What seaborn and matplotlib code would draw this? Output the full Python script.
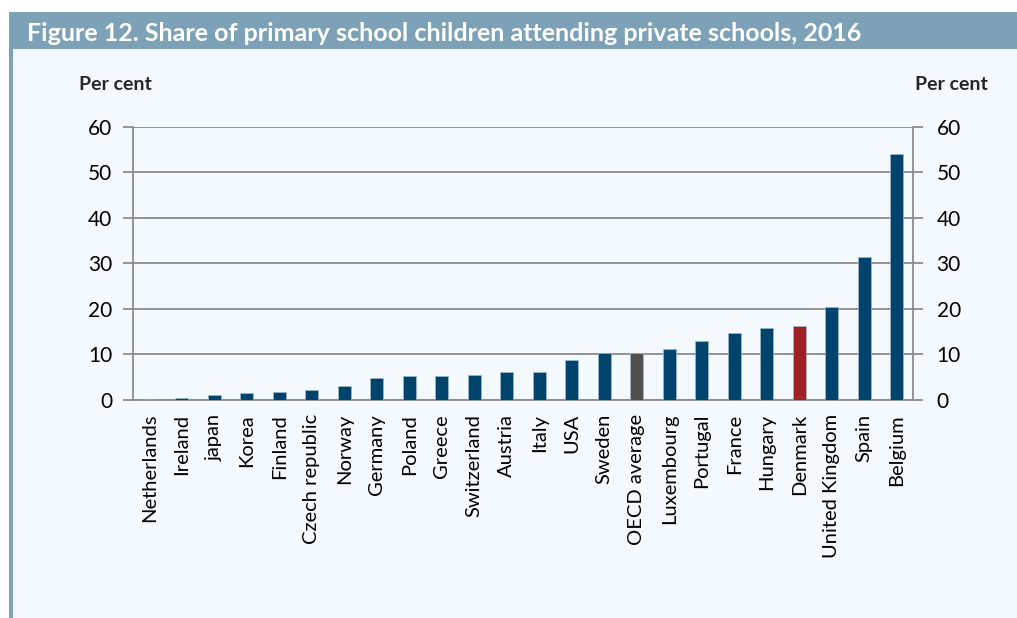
import matplotlib
matplotlib.use("Agg")
import matplotlib.pyplot as plt
import matplotlib.patches as mpatches
import seaborn as sns
import pandas as pd
import numpy as np

countries = ["Netherlands", "Ireland", "japan", "Korea", "Finland", "Czech republic",
             "Norway", "Germany", "Poland", "Greece", "Switzerland", "Austria", "Italy",
             "USA", "Sweden", "OECD average", "Luxembourg", "Portugal", "France",
             "Hungary", "Denmark", "United Kingdom", "Spain", "Belgium"]
values = [0.3, 0.5, 1.1, 1.5, 1.7, 2.2, 3.1, 4.9, 5.2, 5.3, 5.5, 6.1, 6.2,
          8.8, 10.4, 10.3, 11.3, 12.9, 14.7, 15.9, 16.3, 20.4, 31.5, 54.0]
groups = ["country"] * len(countries)
groups[countries.index("OECD average")] = "oecd"
groups[countries.index("Denmark")] = "denmark"
yticks = [0, 10, 20, 30, 40, 50, 60]

title = "Figure 12. Share of primary school children attending private schools, 2016"
ylabel = "Per cent"

BG = "#F4F9FD"
BAR = "#00446E"
RED = "#9E1F24"
GREY = "#505050"
BAND = "#7DA2B7"
GRID = "#8C8C8C"

df = pd.DataFrame({"country": countries, "value": values, "group": groups})

sns.set_theme(style="white")
plt.rcParams["font.family"] = ["Lato", "DejaVu Sans"]

fig = plt.figure(figsize=(10.17, 6.18), dpi=100)
fig.patch.set_facecolor("white")

# background panel
fig.patches.append(mpatches.Rectangle((9 / 1017, 0), 1 - 9 / 1017, 1 - 49 / 618,
                                      transform=fig.transFigure, facecolor=BG,
                                      edgecolor="none", zorder=-10))
# title band
fig.patches.append(mpatches.Rectangle((9 / 1017, 1 - 49 / 618), 1 - 9 / 1017, 37 / 618,
                                      transform=fig.transFigure, facecolor=BAND,
                                      edgecolor="none", zorder=-10))
# left strip
fig.patches.append(mpatches.Rectangle((9 / 1017, 0), 3.5 / 1017, 1 - 49 / 618,
                                      transform=fig.transFigure, facecolor=BAND,
                                      edgecolor="none", zorder=-9))

fig.text(27 / 1017, 1 - 33.5 / 618, title, color="white", fontsize=18,
         fontweight="bold", va="center", ha="left")

ax = fig.add_axes([133 / 1017, 1 - 400 / 618, 780 / 1017, 273.3 / 618])
ax.set_facecolor(BG)

palette = {"country": BAR, "oecd": GREY, "denmark": RED}
sns.barplot(data=df, x="country", y="value", hue="group", palette=palette,
            dodge=False, width=0.4, legend=False, ax=ax, zorder=3, saturation=1,
            edgecolor="#9FB8CC", linewidth=0.5)

ax.set_xlim(-0.5, len(countries) - 0.5)
ax.set_ylim(0, 60)
ax.set_yticks(yticks)
ax.yaxis.grid(True, color=GRID, linewidth=1.3, zorder=0)
ax.set_axisbelow(True)
ax.set_xlabel("")
ax.set_ylabel("")

for side in ["top"]:
    ax.spines[side].set_visible(False)
for side in ["left", "right", "bottom"]:
    ax.spines[side].set_visible(True)
    ax.spines[side].set_color(GRID)
    ax.spines[side].set_linewidth(1.3)

ax.set_xticks(range(len(countries)))
ax.set_xticklabels(countries, rotation=90, fontsize=14.5, color="black")
ax.set_xticks(np.arange(-0.5, len(countries), 1.0), minor=True)
ax.tick_params(axis="x", which="major", length=0, pad=10)
ax.tick_params(axis="x", which="minor", length=5, width=1.3, color=GRID, direction="out")
ax.tick_params(axis="y", which="major", length=7, width=1.3, color=GRID, direction="out",
               labelsize=15, pad=8, labelcolor="black")

ax2 = ax.twinx()
ax2.set_ylim(ax.get_ylim())
ax2.set_yticks(yticks)
ax2.tick_params(axis="y", which="major", length=7, width=1.3, color=GRID, direction="out",
                labelsize=15, pad=10, labelcolor="black")
for s in ax2.spines.values():
    s.set_visible(False)

fig.text(115 / 1017, 1 - 85 / 618, ylabel, fontsize=14, fontweight="bold",
         ha="center", va="center")
fig.text(951 / 1017, 1 - 85 / 618, ylabel, fontsize=14, fontweight="bold",
         ha="center", va="center")

fig.savefig("out.png", dpi=100, facecolor=fig.get_facecolor())
